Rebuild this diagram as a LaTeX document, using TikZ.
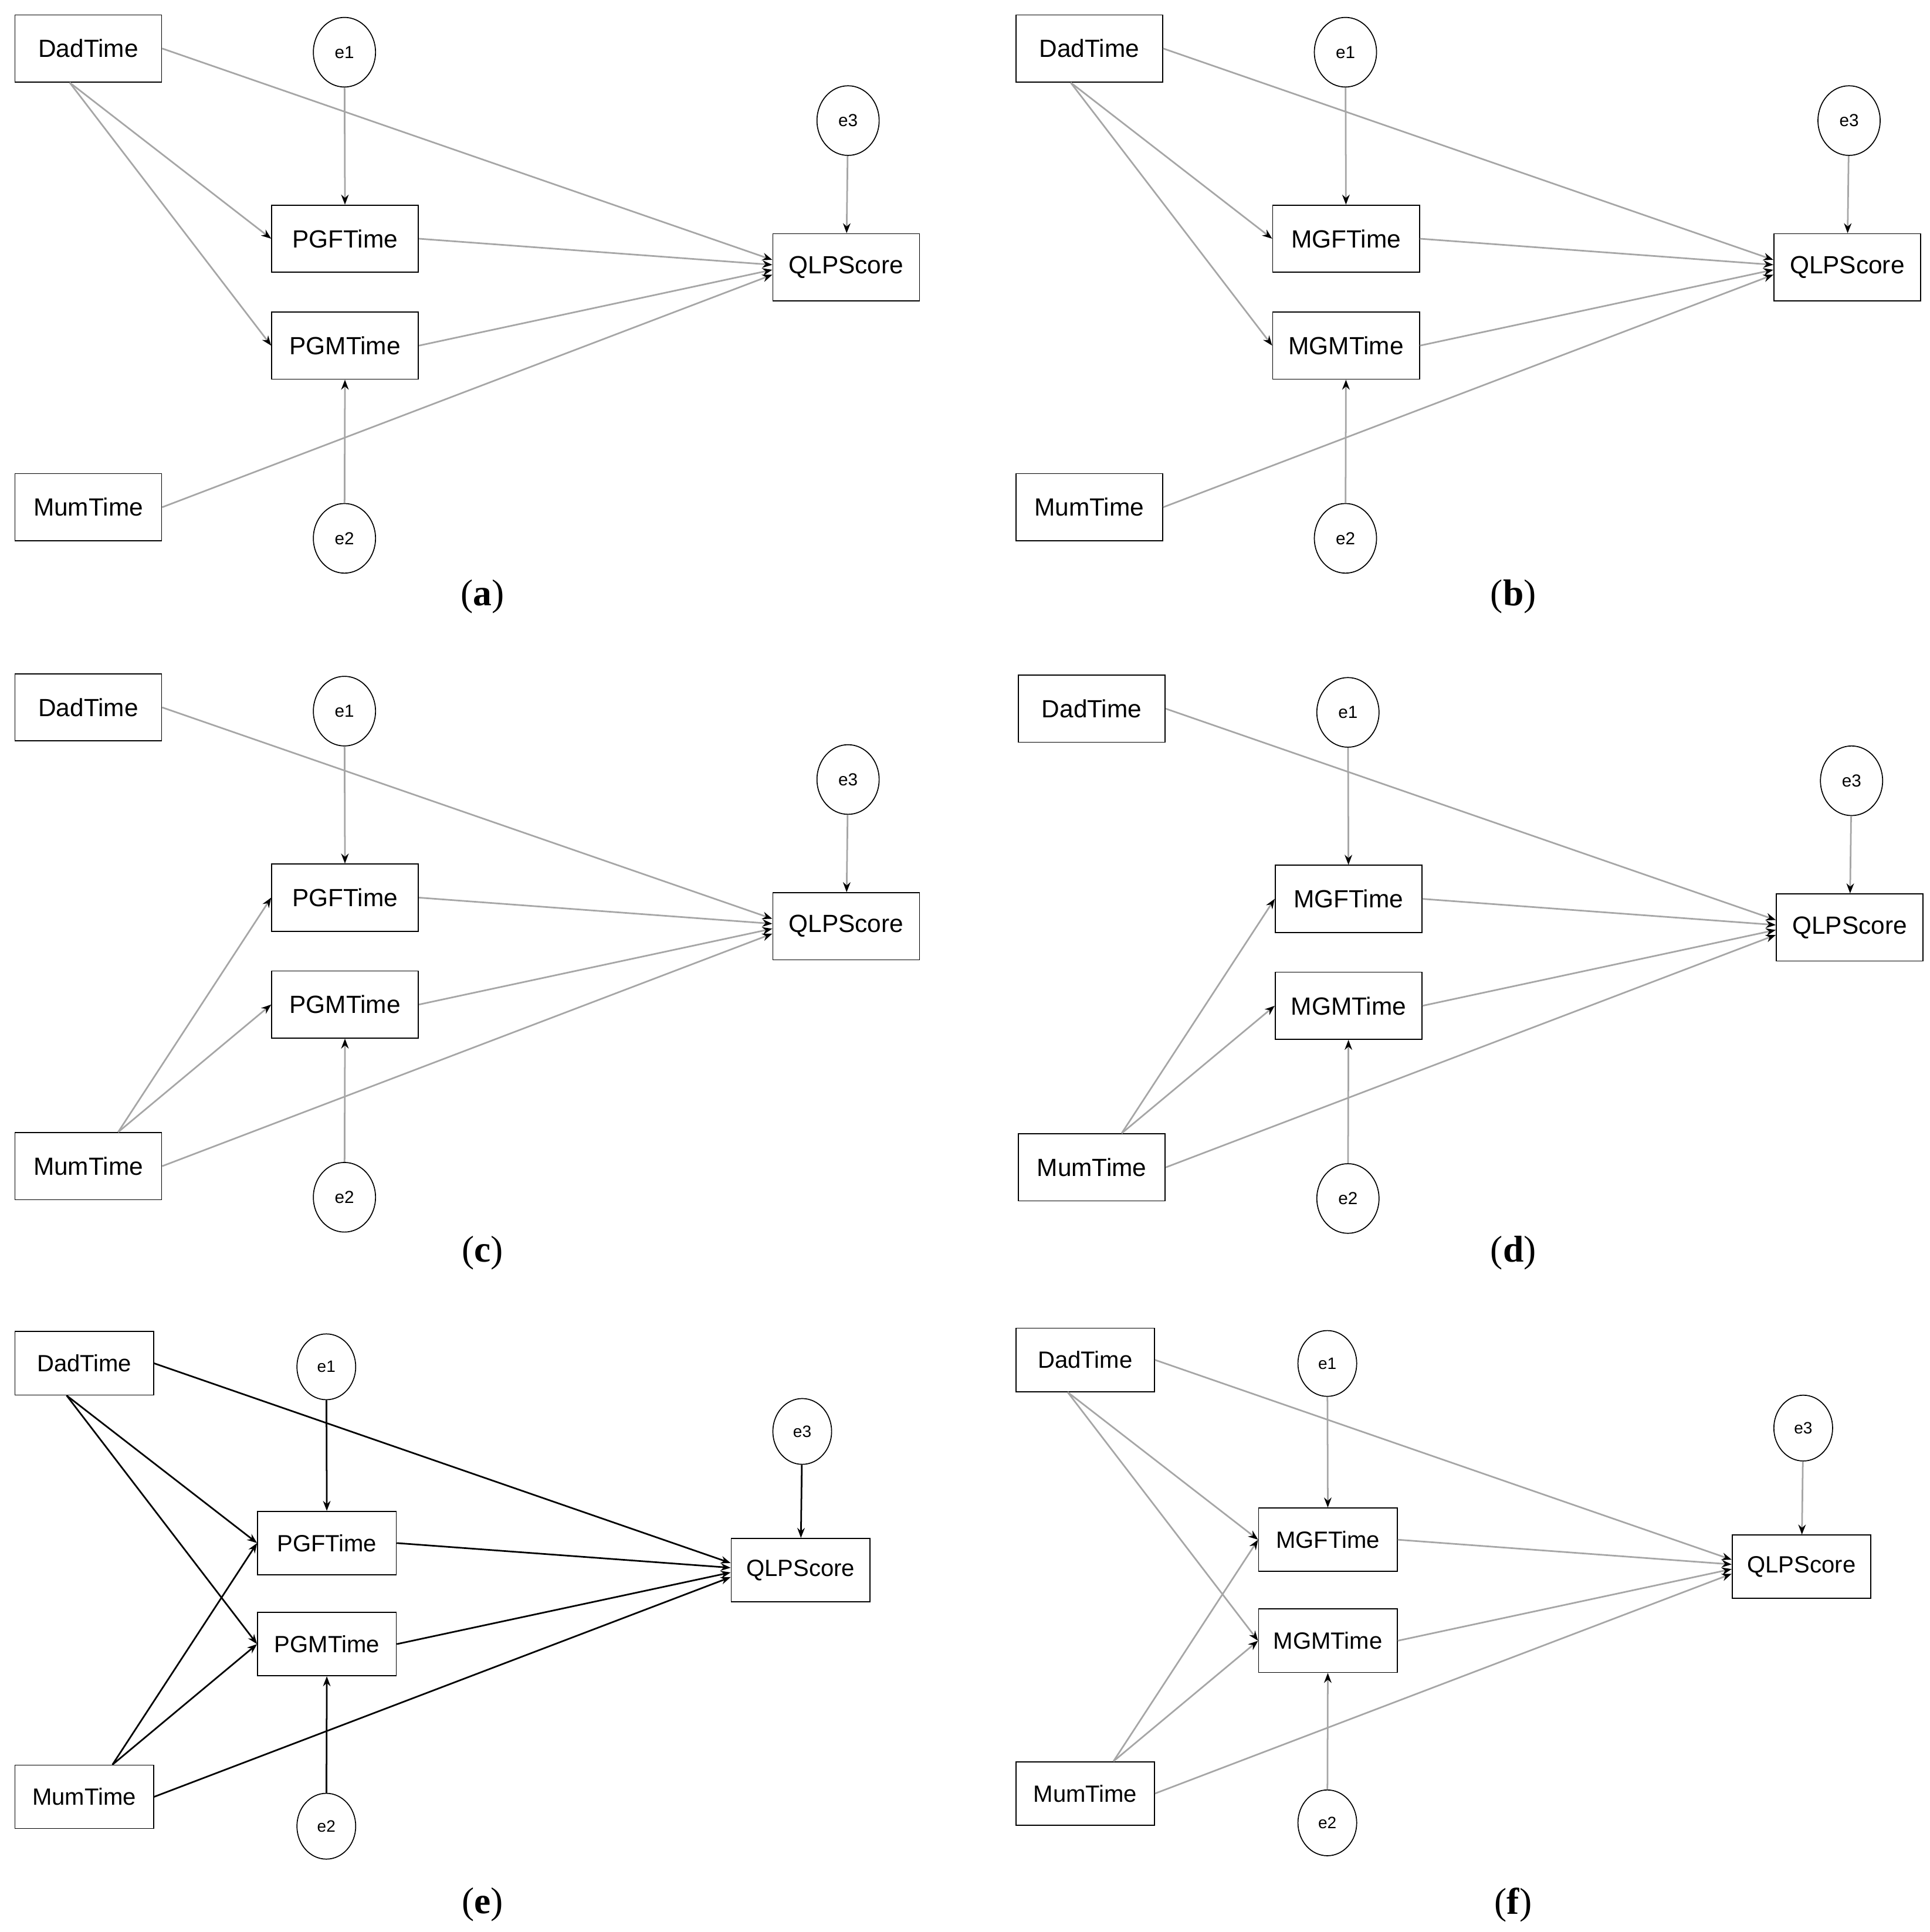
\documentclass[tikz,border=0pt]{standalone}
\usepackage{fontspec}
\setmainfont{Liberation Serif}
\newfontfamily\mysans{Liberation Sans}
\usetikzlibrary{arrows.meta,shapes.geometric}
\tikzset{
 box/.style={draw,thick,minimum width=118pt,minimum height=54pt,font=\mysans\fontsize{20}{24}\selectfont,inner sep=0},
 err/.style={draw,thick,ellipse,minimum width=50pt,minimum height=56pt,font=\mysans\fontsize{14}{16}\selectfont,inner sep=0},
 ln/.style={draw=#1,line width=1.3pt,-{Stealth[length=8pt,width=6pt,black]}},
 captext/.style={font=\fontsize{30}{34}\selectfont}
}
% #1 prefix #2 shift #3 scale #4 F label #5 M label #6 dad links 0/1 #7 mum links 0/1 #8 color
\newcommand\Panel[8]{%
\begin{scope}[shift={#2},scale=#3,transform shape]
 \node[box] (#1D) at (71,39) {DadTime};
 \node[err] (#1e1) at (277,42) {e1};
 \node[err] (#1e3) at (682,97) {e3};
 \node[box] (#1F) at (277.5,192) {#4Time};
 \node[box] (#1G) at (277.5,278) {#5Time};
 \node[box] (#1Q) at (680.5,215) {QLPScore};
 \node[box] (#1M) at (71,408) {MumTime};
 \node[err] (#1e2) at (277,433) {e2};
 \draw[ln=#8] (#1D.east) -- ([yshift=6pt]#1Q.west);
 \draw[ln=#8] (#1F.east) -- ([yshift=2pt]#1Q.west);
 \draw[ln=#8] (#1G.east) -- ([yshift=-2pt]#1Q.west);
 \draw[ln=#8] (#1M.east) -- ([yshift=-6pt]#1Q.west);
 \draw[ln=#8] (#1e1) -- (#1F);
 \draw[ln=#8] (#1e2) -- (#1G);
 \draw[ln=#8] (#1e3) -- (#1Q);
 \ifnum#6=1
 \draw[ln=#8] ([xshift=-15pt]#1D.south) -- (#1F.west);
 \draw[ln=#8] ([xshift=-15pt]#1D.south) -- (#1G.west);
 \fi
 \ifnum#7=1
 \draw[ln=#8] ([xshift=24pt]#1M.north) -- (#1F.west);
 \draw[ln=#8] ([xshift=24pt]#1M.north) -- (#1G.west);
 \fi
\end{scope}}
\begin{document}
\begin{tikzpicture}[x=1pt,y=-1pt]
\useasboundingbox (0,0) rectangle (1552,1554);
\Panel{a}{(0,0)}{1}{PGF}{PGM}{1}{0}{gray!70}
\Panel{b}{(805,0)}{1}{MGF}{MGM}{1}{0}{gray!70}
\Panel{c}{(0,530)}{1}{PGF}{PGM}{0}{1}{gray!70}
\Panel{d}{(807,531)}{1}{MGF}{MGM}{0}{1}{gray!70}
\Panel{e}{(0.66,1059.7)}{0.945}{PGF}{PGM}{1}{1}{black}
\Panel{f}{(805.66,1057)}{0.945}{MGF}{MGM}{1}{1}{gray!70}
\node[captext] (ca) at (388,480) {(\textbf{a})};
\node[captext] (cb) at (1217,480) {(\textbf{b})};
\node[captext] (cc) at (388,1008) {(\textbf{c})};
\node[captext] (cd) at (1217,1008) {(\textbf{d})};
\node[captext] (ce) at (388,1532) {(\textbf{e})};
\node[captext] (cf) at (1217,1532) {(\textbf{f})};
\end{tikzpicture}
\end{document}
